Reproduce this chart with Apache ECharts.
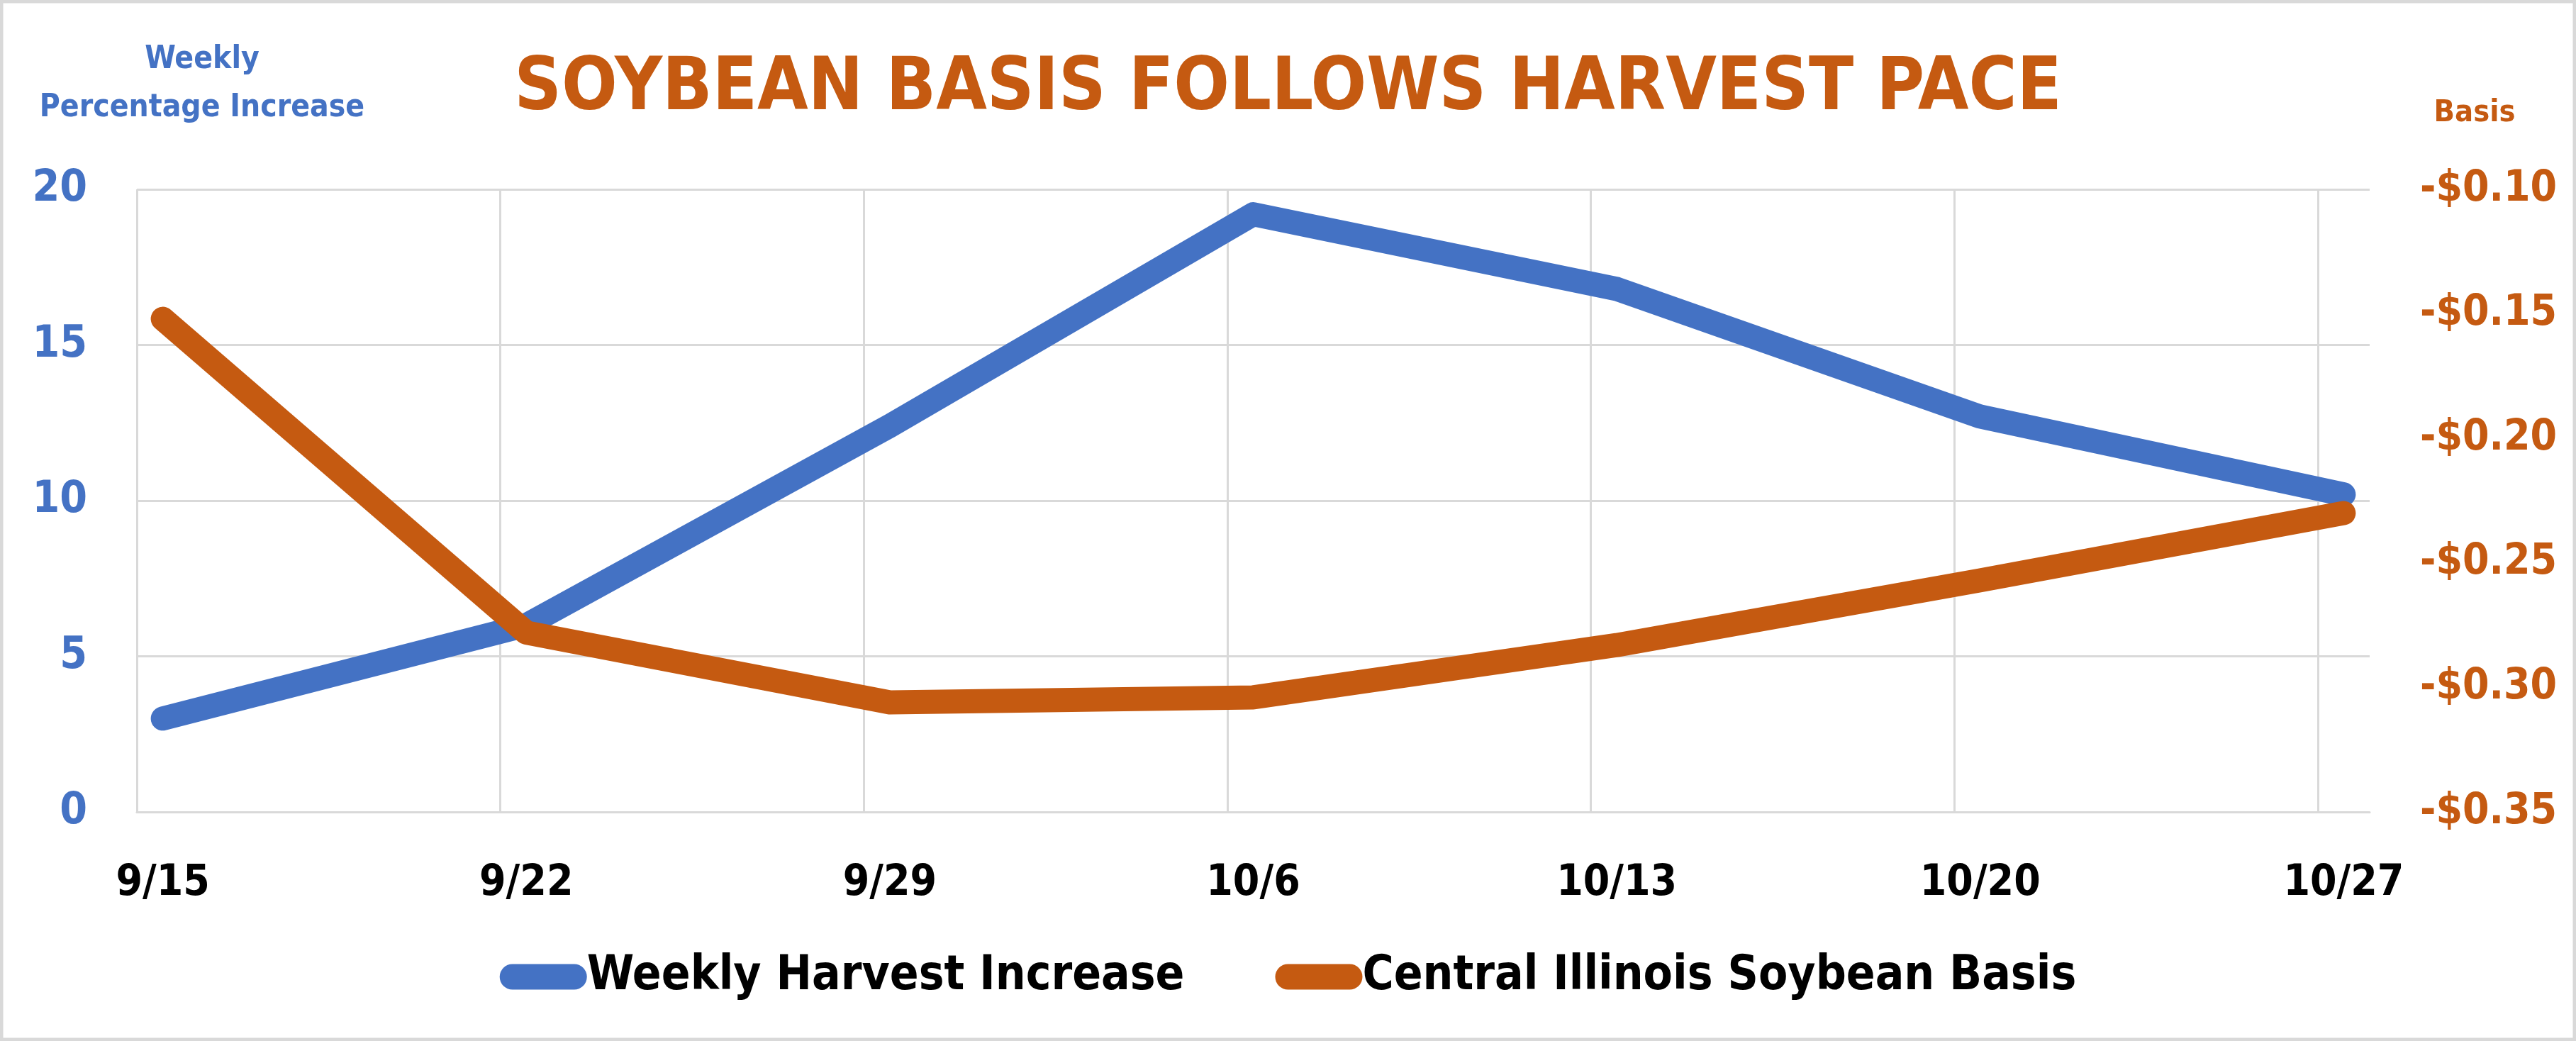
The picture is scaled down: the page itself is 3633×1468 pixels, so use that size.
<!DOCTYPE html>
<html><head><meta charset="utf-8">
<script src="https://cdn.jsdelivr.net/npm/echarts@6/dist/echarts.min.js"></script>
<style>html,body{margin:0;padding:0;background:#fff}#c{width:3633px;height:1468px}</style>
</head><body><div id="c"></div>
<script>
// ---- data ----
const weekLabels = ['9/15', '9/22', '9/29', '10/6', '10/13', '10/20', '10/27'];
const harvestIncrease = [3.0, 6.0, 12.4, 19.2, 16.8, 12.7, 10.2];
const soybeanBasis = [-0.152, -0.278, -0.306, -0.304, -0.283, -0.257, -0.230];
const seriesNames = ['Weekly Harvest Increase', 'Central Illinois Soybean Basis'];
const leftAxisRange = [0, 20, 5];
const rightAxisRange = [-0.35, -0.10, 0.05];

// ---- styling ----
const BLUE = '#4472C4', ORANGE = '#C55A11', GRID = '#d9d9d9';
const FONT = "'Liberation Sans Narrow', 'DejaVu Sans Condensed', sans-serif";
const DAYS_PER_WEEK = 7;
const GRID_LEFT = 193, GRID_RIGHT = 291;
const AXIS_DAYS = (weekLabels.length - 1) * DAYS_PER_WEEK + 1;
const DAY_PX = (3633 - GRID_LEFT - GRID_RIGHT) / AXIS_DAYS;
// Excel date axis: each daily point (and its label) sits in the middle of its day slot
const dayX = i => i * DAYS_PER_WEEK + 0.5;

const chart = echarts.init(document.getElementById('c'), null, {renderer: 'canvas'});
chart.setOption({
  backgroundColor: '#fff',
  animation: false,
  textStyle: {fontFamily: FONT},
  title: {
    text: 'SOYBEAN BASIS FOLLOWS HARVEST PACE',
    left: 'center', top: 71,
    textStyle: {fontFamily: FONT, fontSize: 103, fontWeight: 'bold', color: ORANGE}
  },
  graphic: [
    {type: 'rect', shape: {x: 2, y: 2, width: 3629, height: 1464},
     style: {fill: 'none', stroke: GRID, lineWidth: 5}, silent: true},
    {type: 'text', x: 285, y: 119,
     style: {text: 'Weekly\nPercentage Increase', align: 'center', verticalAlign: 'middle',
             fontFamily: FONT, fontSize: 44, fontWeight: 'bold', fill: BLUE, lineHeight: 68}},
    {type: 'text', x: 3490, y: 160,
     style: {text: 'Basis', align: 'center', verticalAlign: 'middle',
             fontFamily: FONT, fontSize: 43, fontWeight: 'bold', fill: ORANGE}}
  ],
  legend: {
    bottom: 52, left: 'center',
    itemWidth: 123, itemHeight: 36, itemGap: 128,
    icon: 'path://M18,0 L105,0 A18,18 0 0 1 105,36 L18,36 A18,18 0 0 1 18,0 Z',
    textStyle: {fontFamily: FONT, fontSize: 67, fontWeight: 'bold', color: '#000', padding: [0, 0, 0, -5]},
    data: seriesNames
  },
  grid: {left: GRID_LEFT, right: GRID_RIGHT, top: 267, bottom: 323, containLabel: false},
  xAxis: {
    type: 'value', min: 0, max: AXIS_DAYS, interval: DAYS_PER_WEEK,
    axisLine: {show: true, lineStyle: {color: GRID, width: 3}},
    axisTick: {show: false},
    splitLine: {show: true, showMaxLine: false, lineStyle: {color: GRID, width: 3}},
    axisLabel: {
      margin: 71, fontFamily: FONT, fontSize: 60, fontWeight: 'bold', color: '#000',
      showMaxLabel: false,
      padding: [0, 0, 0, DAY_PX],
      formatter: v => (v % DAYS_PER_WEEK === 0 && weekLabels[v / DAYS_PER_WEEK]) ? weekLabels[v / DAYS_PER_WEEK] : ''
    }
  },
  yAxis: [
    {
      type: 'value', min: leftAxisRange[0], max: leftAxisRange[1], interval: leftAxisRange[2],
      axisLine: {show: false}, axisTick: {show: false},
      splitLine: {show: true, lineStyle: {color: GRID, width: 3}},
      axisLabel: {margin: 70, fontFamily: FONT, fontSize: 62, fontWeight: 'bold', color: BLUE}
    },
    {
      type: 'value', position: 'right',
      min: rightAxisRange[0], max: rightAxisRange[1], interval: rightAxisRange[2],
      axisLine: {show: false}, axisTick: {show: false},
      splitLine: {show: false},
      axisLabel: {margin: 71, fontFamily: FONT, fontSize: 60, fontWeight: 'bold', color: ORANGE,
        formatter: v => (v < 0 ? '-' : '') + '$' + Math.abs(v).toFixed(2)}
    }
  ],
  series: [
    {
      name: seriesNames[0], type: 'line', yAxisIndex: 0, symbol: 'none',
      data: harvestIncrease.map((v, i) => [dayX(i), v]),
      lineStyle: {color: BLUE, width: 34, cap: 'round', join: 'round'},
      itemStyle: {color: BLUE}, z: 2
    },
    {
      name: seriesNames[1], type: 'line', yAxisIndex: 1, symbol: 'none',
      data: soybeanBasis.map((v, i) => [dayX(i), v]),
      lineStyle: {color: ORANGE, width: 34, cap: 'round', join: 'round'},
      itemStyle: {color: ORANGE}, z: 3
    }
  ]
});
</script>
</body></html>
